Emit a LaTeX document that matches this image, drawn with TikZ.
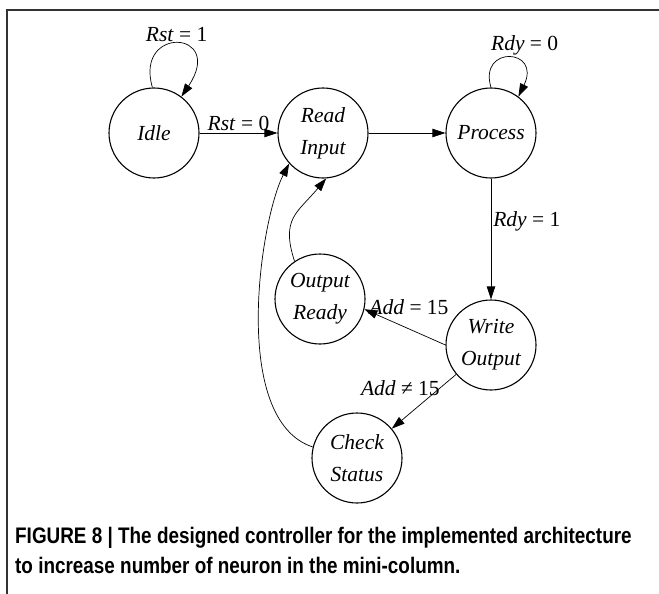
\documentclass[tikz,border=0pt]{standalone}
\usepackage{fontspec}
\setmainfont{Liberation Serif}
\newfontfamily\capfont{Liberation Sans}
\usetikzlibrary{arrows.meta}

\begin{document}
\begin{tikzpicture}[x=1pt, y=1pt,
  state/.style={draw, circle, line width=1.1pt, minimum size=90pt, inner sep=0pt,
    align=center, font=\fontsize{21.5}{32}\selectfont\itshape},
  trans/.style={-{Triangle[length=13pt,width=8.5pt]}, line width=0.7pt},
  cond/.style={font=\fontsize{21.5}{26}\selectfont, inner sep=2pt},
  capline/.style={anchor=base west, inner sep=0pt, font=\capfont\bfseries\fontsize{22.5}{30}\selectfont}]
\useasboundingbox (0,0) rectangle (659,-594);
\draw[line width=1.4pt, black!80] (7,-594) -- (7,-10) -- (659,-10);

% states
\node[state] (idle) at (154,-133) {Idle};
\node[state] (readin) at (323,-133) {Read\\Input};
\node[state] (process) at (491,-133) {Process};
\node[state] (writeout) at (491,-345) {Write\\Output};
\node[state] (outready) at (320,-299) {Output\\Ready};
\node[state] (chkstat) at (357,-458) {Check\\Status};

% transitions
\draw[trans] (idle.92) .. controls (134,-25) and (226,-30) .. node[cond, above] {\textit{Rst} = 1} (idle.53);
\draw[trans] (idle) -- node[cond, above] {\textit{Rst} = 0} (readin);
\draw[trans] (readin) -- (process);
\draw[trans] (process.90) .. controls (478,-45) and (542,-48) .. node[cond, above, xshift=16pt] {\textit{Rdy} = 0} (process.53);
\draw[trans] (process) -- node[cond, right, pos=0.35] {\textit{Rdy} = 1} (writeout);
\draw[trans] (writeout.180) -- node[cond, above=12pt, pos=0.45] {\textit{Add} = 15} (outready.-13);
\draw[trans] (writeout) -- node[cond, left, pos=0.25, inner sep=0pt] {\textit{Add} ≠ 15} (chkstat);
\draw[trans] (outready.124) to[out=108, in=230, looseness=1.3] (readin.274);
\draw[trans] (chkstat.166) .. controls (230,-420) and (260,-220) .. (readin.222);

% caption
\node[capline] (cap1) at (15,-543) {\scalebox{0.84}[1]{FIGURE 8 | The designed controller for the implemented architecture}};
\node[capline] (cap2) at (15,-573) {\scalebox{0.84}[1]{to increase number of neuron in the mini-column.}};
\end{tikzpicture}
\end{document}
